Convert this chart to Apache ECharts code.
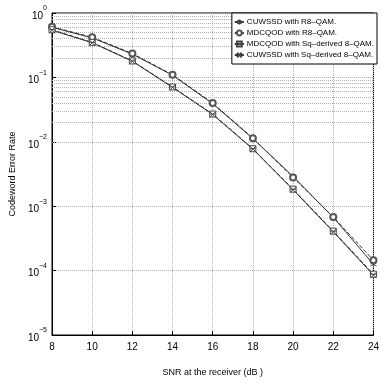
<!DOCTYPE html>
<html>
<head>
<meta charset="utf-8">
<script src="https://cdn.jsdelivr.net/npm/echarts@6/dist/echarts.min.js"></script>
<style>
  html, body { margin: 0; padding: 0; background: #fff; }
  #echart { width: 382px; height: 382px; }
</style>
</head>
<body>
<div id="echart"></div>
<script>
var snr = [8, 10, 12, 14, 16, 18, 20, 22, 24];
var names = ['CUWSSD with R8\u2013QAM.', 'MDCQOD with R8\u2013QAM.',
             'MDCQOD with Sq\u2013derived 8\u2013QAM.', 'CUWSSD with Sq\u2013derived 8\u2013QAM.'];
var cuwssdR8 = [0.60, 0.41, 0.23, 0.108, 0.039, 0.0112, 0.0029, 0.00067, 0.000125];
var mdcqodR8 = [0.61, 0.42, 0.235, 0.110, 0.040, 0.0114, 0.0028, 0.00068, 0.000145];
var mdcqodSq = [0.55, 0.35, 0.180, 0.071, 0.027, 0.0078, 0.00184, 0.00041, 0.000088];
var cuwssdSq = [0.54, 0.345, 0.178, 0.070, 0.0265, 0.0077, 0.0018, 0.00040, 0.000085];

var minorY = [];
for (var k = -5; k < 0; k++) {
  for (var m = 2; m <= 9; m++) minorY.push(m * Math.pow(10, k));
}

var symStar = 'path://M0,-5L0,5M-4.3,-2.5L4.3,2.5M-4.3,2.5L4.3,-2.5';
var symSquare = 'path://M-4,-4L4,-4L4,4L-4,4ZM-4,0L4,0';
var symX = 'path://M-4,-4L4,4M-4,4L4,-4';

function pairs(ys) {
  return snr.map(function (x, i) { return [x, ys[i]]; });
}

function mkSeries(name, ys, symbol, fill, dash) {
  return {
    name: name,
    type: 'line',
    data: pairs(ys),
    symbol: symbol,
    symbolSize: 6,
    showSymbol: true,
    z: 5,
    lineStyle: { color: '#333', width: 1, type: dash },
    itemStyle: { color: fill, borderColor: '#444', borderWidth: 1 },
    animation: false
  };
}

var series = [
  mkSeries(names[0], cuwssdR8, symStar, '#333', 'solid'),
  mkSeries(names[1], mdcqodR8, 'emptyCircle', '#555', [4, 2]),
  mkSeries(names[2], mdcqodSq, symSquare, '#fff', [4, 2]),
  mkSeries(names[3], cuwssdSq, symX, '#333', 'solid')
];
series[0].markLine = {
  silent: true,
  symbol: 'none',
  animation: false,
  z: 1,
  label: { show: false },
  lineStyle: { type: 'dotted', color: '#b0b0b0', width: 1 },
  data: minorY.map(function (v) { return { yAxis: v }; })
};

var myChart = echarts.init(document.getElementById('echart'));
var option = {
  backgroundColor: '#fff',
  animation: false,
  textStyle: { fontFamily: 'Liberation Sans' },
  grid: { left: 32, right: 7, top: 13, bottom: 38, show: true, borderColor: '#000', borderWidth: 1 },
  legend: {
    orient: 'vertical',
    right: 5,
    top: 13,
    itemWidth: 9,
    itemHeight: 6,
    itemGap: 1,
    padding: [4, 3, 4, 2],
    backgroundColor: '#fff',
    borderColor: '#000',
    borderWidth: 1,
    textStyle: { fontSize: 8, lineHeight: 10, color: '#000', fontFamily: 'Liberation Sans', padding: [0, 0, 0, -2] },
    data: names
  },
  xAxis: {
    type: 'value',
    min: 8,
    max: 24,
    interval: 2,
    name: 'SNR at the receiver (dB )',
    nameLocation: 'middle',
    nameGap: 33,
    nameTextStyle: { fontSize: 9, color: '#000' },
    axisLine: { lineStyle: { color: '#000' } },
    axisTick: { inside: true, length: 4, lineStyle: { color: '#000' } },
    axisLabel: { fontSize: 10, color: '#000', margin: 7 },
    splitLine: { show: true, lineStyle: { type: 'dotted', color: '#b0b0b0' } }
  },
  yAxis: {
    type: 'log',
    logBase: 10,
    min: 1e-5,
    max: 1,
    name: 'Codeword Error Rate',
    nameLocation: 'middle',
    nameGap: 25,
    nameTextStyle: { fontSize: 9, color: '#000' },
    axisLine: { lineStyle: { color: '#000' } },
    axisTick: { inside: true, length: 4, lineStyle: { color: '#000' } },
    axisLabel: {
      color: '#000',
      margin: 5,
      formatter: function (v) {
        var e = Math.round(Math.log(v) / Math.LN10);
        return '{b|10}{s|' + (e < 0 ? '\u2212' + (-e) : e) + '}';
      },
      rich: {
        b: { fontSize: 10, color: '#000', verticalAlign: 'bottom', lineHeight: 16 },
        s: { fontSize: 7, color: '#000', verticalAlign: 'top', lineHeight: 16 }
      }
    },
    splitLine: { show: true, lineStyle: { type: 'dotted', color: '#b0b0b0' } }
  },
  series: series
};
myChart.setOption(option);
</script>
</body>
</html>
